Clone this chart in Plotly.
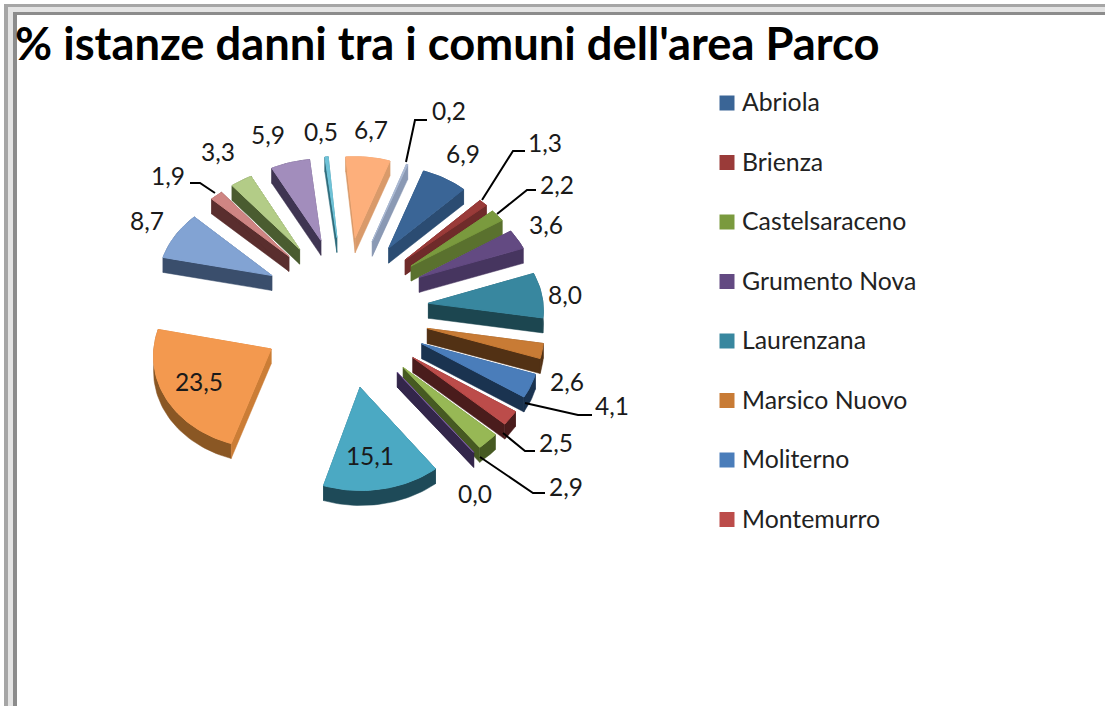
import math
import plotly.graph_objects as go

# ---- data ----
legend_names = ["Abriola", "Brienza", "Castelsaraceno", "Grumento Nova",
                "Laurenzana", "Marsico Nuovo", "Moliterno", "Montemurro"]
values = [6.9, 1.3, 2.2, 3.6, 8.0, 2.6, 4.1, 2.5, 2.9, 0.0,
          15.1, 23.5, 8.7, 1.9, 3.3, 5.9, 0.5, 6.7, 0.2]
value_labels = ["6,9", "1,3", "2,2", "3,6", "8,0", "2,6", "4,1", "2,5", "2,9", "0,0",
                "15,1", "23,5", "8,7", "1,9", "3,3", "5,9", "0,5", "6,7", "0,2"]

# ---- styles ----
top_colors = ["#3A6596", "#9A3B39", "#7A9A3E", "#634A82", "#38879F", "#C87B35", "#4A7DBA",
              "#BC4C4A", "#97B855", "#7D60A0", "#4BA9C3", "#F3994F", "#82A3D3", "#CF8583",
              "#B3CC87", "#A28DBC", "#6FC3D8", "#FDAF7B", "#AAB9D3"]
side_colors = ["#2B4C72", "#6F2B2A", "#5A712E", "#46355F", "#1C4650", "#523114", "#1A3350",
               "#4A1C1C", "#465A22", "#33264A", "#1E4A58", "#8A5724", "#3A4E6C", "#5A2E2E",
               "#4A5C30", "#3F3552", "#2F6C7C", "#D99A6A", "#8A99B4"]
radial_colors = list(side_colors)
radial_colors[11] = "#CB7D36"
label_pos = [(463, 157), (545, 146), (557, 188), (546, 228), (565, 298), (567, 385), (612, 409),
             (556, 446), (566, 490), (475, 497), (370, 459), (199, 385), (147, 224), (168, 179),
             (218, 155), (268, 138), (321, 135), (371, 133), (449, 114)]
leaders = [[(406, 162), (415, 120), (427, 120)], [(482, 200), (513, 151), (525, 151)],
           [(497, 214), (527, 190), (536, 190)], [(525, 403), (578, 415), (592, 415)],
           [(503, 433), (525, 451), (535, 451)], [(480, 457), (533, 493), (545, 493)],
           [(190, 183), (200, 183), (215, 193)]]
FONT = "Lato"
CX, CY, R, K, RY, EXPL, DEPTH, ROT, PERSP = 345, 310, 115, 0.90, 0.88, 84, 15, 20, 0.00045
LEG_SWATCH_X, LEG_TEXT_X, LEG_Y0, LEG_STEP = 727, 742, 105, 59.5


def project(x, y):
    """x to the right, y to the back of the pie plane -> page pixels"""
    s = 1 / (1 + PERSP * y)
    return CX + x * s, CY - K * y * s


def add_poly(fig, pts, color, width=0.5):
    closed = list(pts) + [pts[0]]
    fig.add_trace(go.Scatter(x=[p[0] for p in closed], y=[p[1] for p in closed], mode="lines",
                             fill="toself", fillcolor=color, line=dict(color=color, width=width),
                             showlegend=False, hoverinfo="skip"))


def down(pts):
    return [(p[0], p[1] + DEPTH) for p in pts]


fig = go.Figure()
total = sum(values)
start = ROT
wedges = []
for i, v in enumerate(values):
    sweep = v / total * 360
    mid = math.radians(start + sweep / 2)
    ox, oy = EXPL * math.sin(mid), EXPL * math.cos(mid)
    n = max(2, int(sweep / 2) + 2)
    arc = [math.radians(start + sweep * j / (n - 1)) for j in range(n)]
    tip = project(ox, oy)
    rim = [project(ox + R * math.sin(a), oy + R * RY * math.cos(a)) for a in arc]
    wedges.append((oy, i, tip, rim))
    start += sweep

for oy, i, tip, rim in sorted(wedges, key=lambda w: -w[0]):
    add_poly(fig, rim + down(rim)[::-1], side_colors[i])
    add_poly(fig, [tip, rim[0]] + down([rim[0], tip]), radial_colors[i])
    add_poly(fig, [tip, rim[-1]] + down([rim[-1], tip]), radial_colors[i])
    add_poly(fig, [tip] + rim, top_colors[i], width=1)

for path in leaders:
    fig.add_trace(go.Scatter(x=[p[0] for p in path], y=[p[1] for p in path], mode="lines",
                             line=dict(color="#000000", width=2), showlegend=False,
                             hoverinfo="skip"))

fig.add_trace(go.Scatter(x=[p[0] for p in label_pos], y=[p[1] for p in label_pos], mode="text",
                         text=value_labels, textposition="middle center",
                         textfont=dict(family=FONT, size=24.5, color="#1a1a1a"),
                         showlegend=False, hoverinfo="skip"))

for i, name in enumerate(legend_names):
    y = LEG_Y0 + i * LEG_STEP
    fig.add_trace(go.Scatter(x=[LEG_SWATCH_X], y=[y - 2], mode="markers", showlegend=False, name=name,
                             marker=dict(symbol="square", size=15, color=top_colors[i])))
    fig.add_trace(go.Scatter(x=[LEG_TEXT_X], y=[y], mode="text", text=[name], showlegend=False,
                             textposition="middle right", hoverinfo="skip",
                             textfont=dict(family=FONT, size=24.8, color="#222222")))

frame = [
    ((4, 4, 1105, 7), "#A6A6A6"), ((4, 4, 8, 706), "#A6A6A6"),
    ((8, 7, 1105, 12), "#E4E4E4"), ((8, 7, 13, 706), "#E4E4E4"),
    ((13, 12, 1105, 15), "#8C8C8C"), ((13, 12, 17, 706), "#8C8C8C"),
]
shapes = [dict(type="rect", xref="x", yref="y", x0=b[0], y0=b[1], x1=b[2], y1=b[3],
               fillcolor=c, line=dict(width=0), layer="below") for b, c in frame]

fig.update_layout(
    width=1105, height=706, autosize=False, margin=dict(l=0, r=0, t=0, b=0),
    paper_bgcolor="white", plot_bgcolor="white", shapes=shapes, showlegend=False,
    xaxis=dict(range=[0, 1105], visible=False, domain=[0, 1], fixedrange=True),
    yaxis=dict(range=[706, 0], visible=False, domain=[0, 1], fixedrange=True),
    annotations=[dict(text="<b>% istanze danni tra i comuni dell'area Parco</b>", xref="x", yref="y",
                      x=13, y=42, xanchor="left", yanchor="middle", showarrow=False,
                      font=dict(family=FONT, size=45.3, color="#000000"))],
)
fig.write_html("out.html", config=dict(displayModeBar=False),
               post_script="document.body.style.margin='0';document.documentElement.style.overflow='hidden';")
